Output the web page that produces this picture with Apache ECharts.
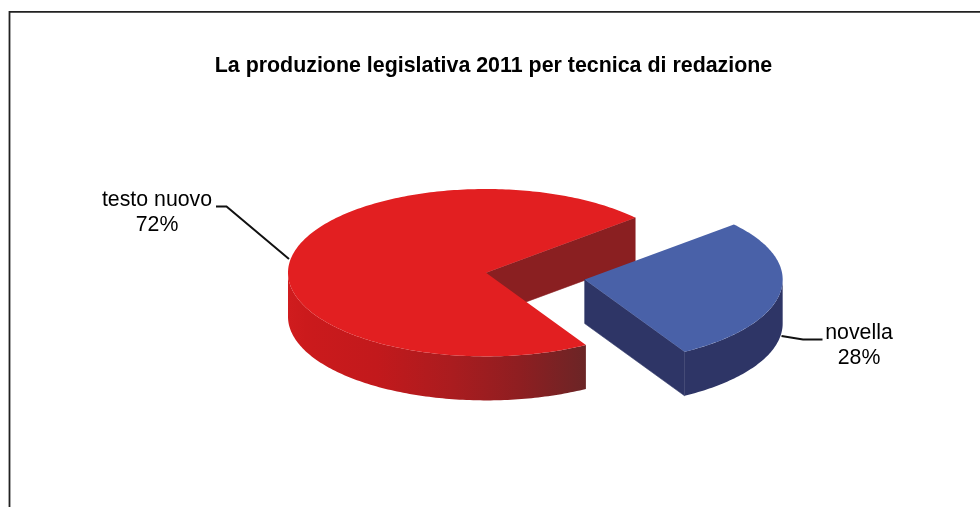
<!DOCTYPE html>
<html>
<head>
<meta charset="utf-8">
<style>html,body{margin:0;padding:0;background:#fff}#chart{width:980px;height:507px}</style>
<script src="https://cdn.jsdelivr.net/npm/echarts@6/dist/echarts.min.js"></script>
</head>
<body>
<div id="chart"></div>
<script>
// Legislative output 2011 by drafting technique
const categories = ['testo nuovo', 'novella'];
const shares = [72, 28];
const chartTitle = 'La produzione legislativa 2011 per tecnica di redazione';

// Projection of the tilted disc
const disc = { cx: 486, cy: 272.7, rx: 198, ry: 83.7, depth: 44, startAngle: 59.7, explode: [0, 0.505] };

// Per-slice look and the label with its leader line
const looks = [
  {
    top: '#e21f21', wall: '#8a1f21',
    rim: [[0, '#d01c1e'], [0.06, '#cb1a1c'], [0.3, '#c2191c'], [0.55, '#aa1c1f'], [0.78, '#8e1e21'], [1, '#6b2526']],
    label: { x: 157, y: 200, leader: [[216, 206.5], [226.5, 206.5], [289, 259]] }
  },
  {
    top: '#4961a8', wall: '#2e3566',
    rim: [[0, '#2e3566'], [1, '#2e3566']],
    label: { x: 859, y: 333, leader: [[781.5, 336], [803, 339.5], [822.5, 339.5]] }
  }
];

const rad = d => d * Math.PI / 180;
const total = shares.reduce((a, b) => a + b, 0);

function sliceAngles(index) {
  let from = disc.startAngle;
  for (let i = 0; i < index; i++) from += shares[i] / total * 360;
  return [from, from + shares[index] / total * 360];
}

function renderSlice(params, api) {
  const i = params.dataIndex;
  const value = api.value(0);
  const [a0, a1] = sliceAngles(i);
  const mid = rad((a0 + a1) / 2);
  const ox = disc.cx + Math.cos(mid) * disc.explode[i] * disc.rx;
  const oy = disc.cy + Math.sin(mid) * disc.explode[i] * disc.ry;
  const at = (deg, dy) => [ox + Math.cos(rad(deg)) * disc.rx, oy + Math.sin(rad(deg)) * disc.ry + (dy || 0)];
  const look = looks[i];
  const children = [];

  // Cut faces that turn towards the viewer; the thin stroke closes the seam with the rim
  const face = deg => ({
    type: 'polygon',
    shape: { points: [[ox, oy], at(deg), at(deg, disc.depth), [ox, oy + disc.depth]] },
    style: { fill: look.wall, stroke: look.wall, lineWidth: 0.6 }
  });
  if (Math.cos(rad(a0)) < 0) children.push(face(a0));
  if (Math.cos(rad(a1)) > 0) children.push(face(a1));

  // Outer rim: only the front half of the ellipse is visible
  const frontRanges = [];
  for (let k = -1; k <= 2; k++) {
    const lo = Math.max(a0, k * 360), hi = Math.min(a1, k * 360 + 180);
    if (hi > lo) frontRanges.push([lo, hi]);
  }
  frontRanges.forEach(([lo, hi]) => {
    const upper = [], lower = [];
    for (let d = lo; d < hi; d += 1) { upper.push(at(d)); lower.unshift(at(d, disc.depth)); }
    upper.push(at(hi)); lower.unshift(at(hi, disc.depth));
    children.push({
      type: 'polygon',
      shape: { points: upper.concat(lower) },
      style: { fill: new echarts.graphic.LinearGradient(0, 0, 1, 0, look.rim.map(s => ({ offset: s[0], color: s[1] }))) }
    });
  });

  // Top surface
  const topPts = [[ox, oy]];
  for (let d = a0; d < a1; d += 1) topPts.push(at(d));
  topPts.push(at(a1));
  children.push({ type: 'polygon', shape: { points: topPts }, style: { fill: look.top } });

  // Leader line and two-line label
  children.push({
    type: 'polyline',
    shape: { points: look.label.leader },
    style: { stroke: '#111', lineWidth: 2, fill: 'none' }
  });
  children.push({
    type: 'text',
    x: look.label.x,
    y: look.label.y - 12,
    style: {
      text: categories[i] + '\n' + value + '%',
      fill: '#000', font: '21.3px "Liberation Sans", Arial, sans-serif',
      align: 'center', verticalAlign: 'top', lineHeight: 24.5
    }
  });
  return { type: 'group', children };
}

const chart = echarts.init(document.getElementById('chart'), null, { renderer: 'canvas' });
chart.setOption({
  animation: false,
  backgroundColor: '#fff',
  title: {
    text: chartTitle,
    left: 488.5, top: 51, textAlign: 'center',
    textStyle: { fontFamily: '"Liberation Sans", Arial, sans-serif', fontWeight: 'bold', fontSize: 21.4, color: '#000' }
  },
  graphic: [{
    type: 'polyline',
    shape: { points: [[9.5, 507], [9.5, 11.8], [980, 11.8]] },
    style: { stroke: '#222', lineWidth: 1.8, fill: 'none' }
  }],
  series: [{
    type: 'custom',
    coordinateSystem: 'none',
    renderItem: renderSlice,
    data: shares.map(v => [v])
  }]
});
</script>
</body>
</html>
